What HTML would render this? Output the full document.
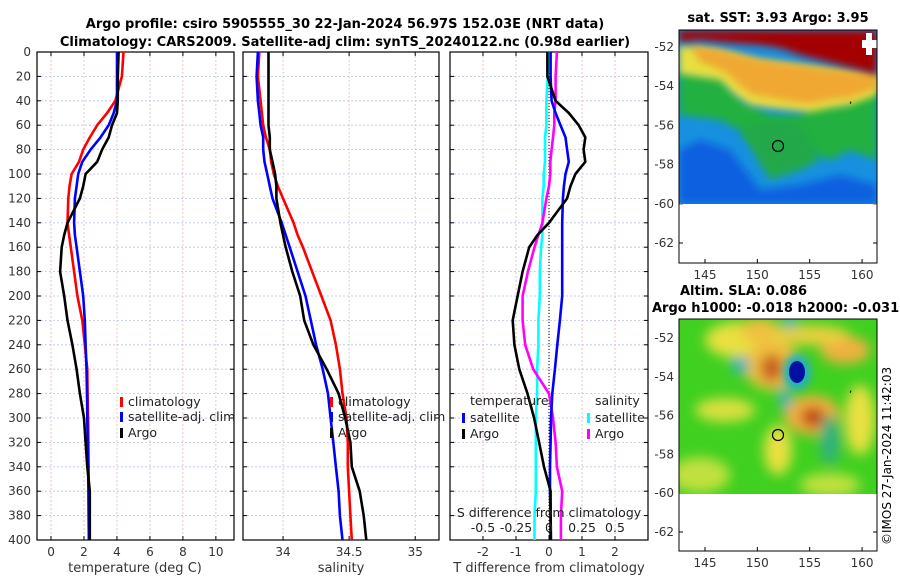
<!DOCTYPE html>
<html><head><meta charset="utf-8"><style>
body{margin:0;background:#fff;font-family:"Liberation Sans",sans-serif}
svg text{font-family:"DejaVu Sans","Liberation Sans",sans-serif}
</style></head><body>
<svg id="c" width="900" height="580" xmlns="http://www.w3.org/2000/svg">
<defs>
<filter id="bl" x="-20%" y="-20%" width="140%" height="140%"><feGaussianBlur stdDeviation="4"/></filter>
<filter id="bl2" x="-30%" y="-30%" width="160%" height="160%"><feGaussianBlur stdDeviation="6"/></filter>
<clipPath id="cm1"><rect x="679" y="30" width="198" height="174"/></clipPath>
<clipPath id="cm2"><rect x="679" y="319" width="198" height="175"/></clipPath>
</defs>
<text x="345" y="28" text-anchor="middle" font-size="13" font-weight="bold">Argo profile: csiro 5905555_30 22-Jan-2024 56.97S 152.03E (NRT data)</text>
<text x="345" y="46" text-anchor="middle" font-size="13" font-weight="bold">Climatology: CARS2009. Satellite-adj clim: synTS_20240122.nc (0.98d earlier)</text>
<g id="g"></g>
<!-- SST map -->
<text x="778" y="22" text-anchor="middle" font-size="13" font-weight="bold">sat. SST: 3.93 Argo: 3.95</text>
<g clip-path="url(#cm1)">
<rect x="679" y="30" width="198" height="174" fill="#1890e0"/>
<polygon points="679,150 700,140 730,150 760,190 800,185 840,175 877,185 877,204 679,204" fill="#1060e0" filter="url(#bl)"/>
<polygon points="679,70 720,75 740,100 770,115 800,115 820,100 840,105 860,95 877,80 877,160 850,150 830,160 800,150 770,165 760,150 740,130 720,120 679,115" fill="#20b040" filter="url(#bl)"/>
<polygon points="740,130 770,120 800,125 820,160 800,170 770,180" fill="#20a848" filter="url(#bl)"/>
<polygon points="679,45 720,50 760,60 800,65 840,70 877,75 877,95 850,105 830,108 810,112 790,110 770,108 750,105 735,95 720,80 679,74" fill="#e8e040" filter="url(#bl)"/>
<polygon points="690,45 720,50 760,60 800,65 840,70 877,75 877,88 850,98 830,100 810,104 790,102 770,98 752,95 740,86 725,72 700,62" fill="#f0a830" filter="url(#bl)"/>
<polygon points="679,30 877,30 877,75 860,70 840,65 820,60 800,55 780,48 760,45 720,42 700,40 679,42" fill="#a40000" filter="url(#bl)"/>
<rect x="862" y="40" width="15" height="8" fill="#fff"/><rect x="866" y="33" width="6" height="22" fill="#fff"/>
</g>
<rect x="679" y="30" width="198" height="233" fill="none" stroke="#000"/>
<circle cx="778" cy="146" r="5.5" fill="none" stroke="#000" stroke-width="1.2"/>
<text x="849" y="103" font-size="10">,</text>
<!-- SLA map -->
<text x="680" y="295" font-size="13" font-weight="bold">Altim. SLA: 0.086</text>
<text x="652" y="312" font-size="13" font-weight="bold">Argo h1000: -0.018 h2000: -0.031</text>
<g clip-path="url(#cm2)">
<rect x="679" y="319" width="198" height="175" fill="#40d020"/>
<g filter="url(#bl2)">
<ellipse cx="740" cy="340" rx="35" ry="18" fill="#e8e040"/>
<ellipse cx="760" cy="330" rx="20" ry="12" fill="#f0c040"/>
<ellipse cx="772" cy="365" rx="28" ry="25" fill="#f0c040"/>
<ellipse cx="772" cy="368" rx="12" ry="14" fill="#c86020"/>
<ellipse cx="725" cy="410" rx="30" ry="12" fill="#d8e040"/>
<ellipse cx="812" cy="415" rx="28" ry="20" fill="#f0b040"/>
<ellipse cx="813" cy="417" rx="12" ry="10" fill="#c04010"/>
<ellipse cx="845" cy="350" rx="25" ry="14" fill="#f0b040"/>
<ellipse cx="860" cy="420" rx="15" ry="35" fill="#e8e040"/>
<ellipse cx="778" cy="450" rx="14" ry="25" fill="#e8e040"/>
<ellipse cx="700" cy="475" rx="30" ry="18" fill="#c0e040"/>
<ellipse cx="830" cy="485" rx="30" ry="12" fill="#c0e040"/>
<ellipse cx="810" cy="335" rx="40" ry="10" fill="#e8d040"/>
<ellipse cx="740" cy="365" rx="9" ry="9" fill="#30b0c0"/>
<ellipse cx="785" cy="398" rx="6" ry="12" fill="#30b0c0"/>
<ellipse cx="830" cy="440" rx="10" ry="25" fill="#30b080"/>
<ellipse cx="790" cy="322" rx="8" ry="6" fill="#30b0c0"/>
</g>
<ellipse cx="797" cy="372" rx="14" ry="18" fill="#20b0c0" filter="url(#bl)"/>
<ellipse cx="797" cy="372" rx="8" ry="11" fill="#0010a0"/>
</g>
<rect x="679" y="319" width="198" height="232" fill="none" stroke="#000"/>
<circle cx="778" cy="435" r="5.5" fill="none" stroke="#000" stroke-width="1.2"/>
<text x="849" y="392" font-size="10">,</text>
<text transform="translate(891,545) rotate(-90)" font-size="12">©IMOS 27-Jan-2024 11:42:03</text>
</svg>
<script>
const depths=[0,20,40,50,60,70,80,90,100,110,120,140,150,160,180,200,220,240,260,280,300,320,340,360,380,400];
const tClim=[4.4,4.3,3.9,3.4,2.8,2.35,1.95,1.7,1.25,1.12,1.05,1.0,1.1,1.2,1.4,1.6,1.9,2.05,2.2,2.22,2.25,2.27,2.28,2.3,2.3,2.3];
const tSat=[4.0,4.0,4.0,3.8,3.5,3.0,2.4,1.9,1.65,1.55,1.45,1.4,1.45,1.55,1.75,1.95,2.05,2.1,2.15,2.18,2.2,2.22,2.25,2.27,2.28,2.3];
const tArgo=[4.1,4.05,4.05,4.0,3.7,3.5,3.1,2.8,2.1,1.95,1.75,1.0,0.8,0.65,0.55,0.8,1.0,1.3,1.55,1.75,2.0,2.1,2.2,2.35,2.35,2.35];
const sClim=[33.82,33.81,33.83,33.84,33.85,33.87,33.90,33.91,33.93,33.96,34.0,34.08,34.11,34.15,34.22,34.29,34.36,34.40,34.43,34.45,34.48,34.49,34.49,34.50,34.51,34.52];
const sSat=[33.81,33.80,33.81,33.82,33.83,33.85,33.85,33.86,33.88,33.90,33.92,33.99,34.02,34.05,34.11,34.17,34.21,34.25,34.30,34.34,34.36,34.38,34.40,34.42,34.43,34.45];
const sArgo=[33.89,33.89,33.89,33.89,33.89,33.90,33.90,33.92,33.94,33.95,33.95,33.98,34.0,34.02,34.07,34.13,34.16,34.23,34.33,34.42,34.47,34.51,34.52,34.58,34.61,34.63];
const dTSat=[0.05,0.05,0.08,0.2,0.35,0.5,0.55,0.6,0.5,0.45,0.42,0.4,0.4,0.4,0.4,0.4,0.33,0.25,0.18,0.1,0.06,0.05,0.03,0.03,0.05,0.06];
const dTArgo=[-0.05,-0.05,0.2,0.6,0.9,1.1,1.05,1.1,0.8,0.65,0.55,0.0,-0.35,-0.6,-0.8,-0.95,-1.1,-1.05,-0.9,-0.65,-0.45,-0.3,-0.15,0.05,0.05,0.05];
const dSSat=[0.0,-0.01,-0.02,-0.02,-0.02,-0.03,-0.03,-0.03,-0.04,-0.04,-0.05,-0.05,-0.05,-0.06,-0.07,-0.07,-0.08,-0.08,-0.09,-0.09,-0.1,-0.1,-0.1,-0.1,-0.11,-0.11];
const dSArgo=[0.06,0.05,0.05,0.04,0.04,0.03,0.02,0.01,0.01,0.0,-0.02,-0.05,-0.08,-0.11,-0.16,-0.2,-0.2,-0.18,-0.12,0.0,0.03,0.05,0.06,0.1,0.09,0.09];
const depthTicks=[0,20,40,60,80,100,120,140,160,180,200,220,240,260,280,300,320,340,360,380,400];
const tTicks=[0,2,4,6,8,10];
const sTicks=[34,34.5,35];
const dTTicks=[-2,-1,0,1,2];
const dSTicks=["-0.5","-0.25","0","0.25","0.5"];

const NS="http://www.w3.org/2000/svg";
const G=document.getElementById('g');
function mk(t,a,p){const e=document.createElementNS(NS,t);for(const k in a)e.setAttribute(k,a[k]);(p||G).appendChild(e);return e;}
const Y0=52,Y1=540;
const yS=d=>Y0+(d/400)*(Y1-Y0);
const panels=[
 {x0:37,x1:234,lo:-0.85,hi:11.1,name:'temperature'},
 {x0:243,x1:439,lo:33.697,hi:35.18,name:'salinity'},
 {x0:450,x1:648,lo:-3,hi:3,name:'difference'}];
function xs(p,v){return p.x0+(v-p.lo)/(p.hi-p.lo)*(p.x1-p.x0);}
function grid(p,ticks,labels){
 depthTicks.forEach(d=>{const l=mk('line',{x1:p.x0,x2:p.x1,y1:yS(d),y2:yS(d),stroke:'#b8c4e8','stroke-width':0.8,'stroke-dasharray':'2,2'});
  
  
  mk('line',{x1:p.x0,x2:p.x0+4,y1:yS(d),y2:yS(d),stroke:'#000'});mk('line',{x1:p.x1,x2:p.x1-4,y1:yS(d),y2:yS(d),stroke:'#000'});});
 ticks.forEach((v,i)=>{const x=xs(p,v);
  const l=mk('line',{x1:x,x2:x,y1:Y0,y2:Y1,stroke:'#e0b8b0','stroke-width':0.8,'stroke-dasharray':'2,2'});
  
  
  mk('line',{x1:x,x2:x,y1:Y1,y2:Y1-4,stroke:'#000'});mk('line',{x1:x,x2:x,y1:Y0,y2:Y0+4,stroke:'#000'});
  const t=mk('text',{x:x,y:556,'text-anchor':'middle','font-size':12,fill:'#333'});t.textContent=labels?labels[i]:v;
  
  });
 const r=mk('rect',{x:p.x0,y:Y0,width:p.x1-p.x0,height:Y1-Y0,fill:'none',stroke:'#000','stroke-width':1.2});
 
 
}
function line(p,vals,col,name,scale){
 const pts=vals.map((v,i)=>(scale?scale(v):xs(p,v)).toFixed(1)+','+yS(depths[i]).toFixed(1)).join(' ');
 const l=mk('polyline',{points:pts,fill:'none',stroke:col,'stroke-width':2.6,'stroke-linejoin':'round'});
 
 
}
function leg(x,y,col,txt,name){
 mk('rect',{x:x,y:y-9,width:3,height:10,fill:col});
 const t=mk('text',{x:x+8,y:y,'font-size':12.5,fill:'#222'});t.textContent=txt;
 
 
}
grid(panels[0],tTicks);grid(panels[1],sTicks);grid(panels[2],dTTicks);
depthTicks.forEach(d=>{const t=mk('text',{x:31,y:yS(d)+4,'text-anchor':'end','font-size':12,fill:'#333'});t.textContent=d;
 
 });
const P0=panels[0],P1=panels[1],P2=panels[2];
line(P0,tClim,'#f00','temp-climatology-line');line(P0,tSat,'#00f','temp-satellite-line');line(P0,tArgo,'#000','temp-argo-line');
line(P1,sClim,'#f00','sal-climatology-line');line(P1,sSat,'#00f','sal-satellite-line');line(P1,sArgo,'#000','sal-argo-line');
const zl=mk('line',{x1:xs(P2,0),x2:xs(P2,0),y1:Y0,y2:Y1,stroke:'#000','stroke-width':1,'stroke-dasharray':'1,2'});


const sScale=v=>xs(P2,v*4);
line(P2,dSSat,'#0ff','sdiff-satellite-line',sScale);line(P2,dSArgo,'#f0f','sdiff-argo-line',sScale);
line(P2,dTSat,'#00f','tdiff-satellite-line');line(P2,dTArgo,'#000','tdiff-argo-line');
dSTicks.forEach((s,i)=>{const t=mk('text',{x:sScale(parseFloat(s)),y:532,'text-anchor':'middle','font-size':12.5,fill:'#222'});t.textContent=s;
 
 });
let t=mk('text',{x:549,y:517,'text-anchor':'middle','font-size':12.5,fill:'#222'});t.textContent='S difference from climatology';


leg(120,406,'#f00','climatology','legend-climatology');leg(120,421,'#00f','satellite-adj. clim','legend-satellite');leg(120,437,'#000','Argo','legend-argo');
leg(330,406,'#f00','climatology','legend-climatology-2');leg(330,421,'#00f','satellite-adj. clim','legend-satellite-2');leg(330,437,'#000','Argo','legend-argo-2');
t=mk('text',{x:470,y:405,'font-size':12.5,fill:'#222'});t.textContent='temperature';


t=mk('text',{x:595,y:405,'font-size':12.5,fill:'#222'});t.textContent='salinity';


leg(462,422,'#00f','satellite','legend-t-satellite');leg(462,438,'#000','Argo','legend-t-argo');
leg(587,422,'#0ff','satellite','legend-s-satellite');leg(587,438,'#f0f','Argo','legend-s-argo');
[['temperature (deg C)',135],['salinity',341],['T difference from climatology',549]].forEach(([s,x])=>{
 const e=mk('text',{x:x,y:572,'text-anchor':'middle','font-size':13,fill:'#333'});e.textContent=s;
 
 });
// map axes
const lonTicks=[145,150,155,160];
const latTicks=[-52,-54,-56,-58,-60,-62];
[[30,47,39.2,263],[319,338,38.8,551]].forEach(([top,y52,pd,bot])=>{
 lonTicks.forEach(l=>{const x=705+(l-145)*10.47;
  mk('line',{x1:x,x2:x,y1:bot,y2:bot-4,stroke:'#000'});mk('line',{x1:x,x2:x,y1:top,y2:top+4,stroke:'#000'});
  const e=mk('text',{x:x,y:bot+16,'text-anchor':'middle','font-size':12,fill:'#333'});e.textContent=l;
  
  });
 latTicks.forEach(l=>{const y=y52+(-52-l)/2*pd;
  mk('line',{x1:679,x2:683,y1:y,y2:y,stroke:'#000'});mk('line',{x1:877,x2:873,y1:y,y2:y,stroke:'#000'});
  const e=mk('text',{x:674,y:y+4,'text-anchor':'end','font-size':12,fill:'#333'});e.textContent=l;
  
  });
});
</script>
</body></html>
